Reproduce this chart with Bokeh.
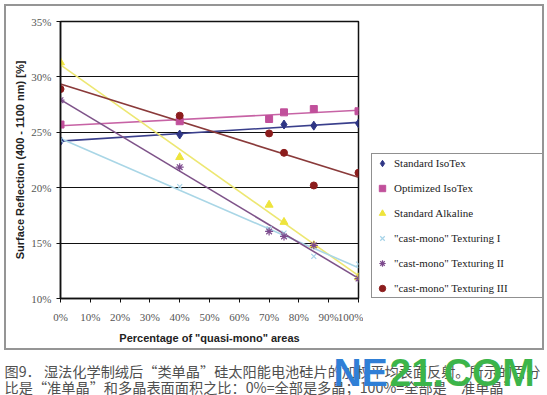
import numpy as np
from bokeh.plotting import figure
from bokeh.layouts import column, row
from bokeh.models import Range1d, Legend, LegendItem, FixedTicker, Spacer
from bokeh.core.properties import value
from bokeh.embed import file_html
from bokeh.resources import INLINE

# ---- data ----
x_ticks = [0, 10, 20, 30, 40, 50, 60, 70, 80, 90, 100]
x_tick_labels = ["0%", "10%", "20%", "30%", "40%", "50%", "60%", "70%", "80%", "90%", "100%"]
y_ticks = [10, 15, 20, 25, 30, 35]
y_tick_labels = ["10%", "15%", "20%", "25%", "30%", "35%"]

names = ["Standard IsoTex", "Optimized IsoTex", "Standard Alkaline",
         "\"cast-mono\" Texturing I", "\"cast-mono\" Texturing II", "\"cast-mono\" Texturing III"]

iso_x = [0, 40, 75, 85, 100]
iso_y = [24.2, 24.8, 25.7, 25.6, 25.8]
opt_x = [0, 40, 70, 75, 85, 100]
opt_y = [25.7, 26.0, 26.2, 26.8, 27.1, 26.9]
alk_x = [0, 40, 70, 75, 85, 100]
alk_y = [31.3, 22.75, 18.45, 16.9, 14.8, 11.9]
t1_x = [0, 40, 70, 75, 85, 100]
t1_y = [24.3, 20.1, 16.3, 15.9, 13.8, 13.1]
t2_x = [0, 40, 70, 75, 85, 100]
t2_y = [27.9, 21.85, 16.05, 15.6, 14.8, 11.8]
t3_x = [0, 40, 70, 75, 85, 100]
t3_y = [28.9, 26.5, 24.9, 23.15, 20.2, 21.35]

caption1 = "图9． 湿法化学制绒后“类单晶”硅太阳能电池硅片的加权平均表面反射。所示的百分"
caption2 = "比是“准单晶”和多晶表面面积之比：0%=全部是多晶；100%=全部是“准单晶”"
watermark_a = "NE"
watermark_b = "21.COM"

series = [
    (iso_x, iso_y, "diamond", "#2E3585", "#3A3F8C", 9),
    (opt_x, opt_y, "square", "#C1509B", "#C763A5", 7),
    (alk_x, alk_y, "triangle", "#EEE43C", "#EDE772", 8),
    (t1_x, t1_y, "x", "#A6D3E8", "#A9D6E6", 7),
    (t2_x, t2_y, "asterisk", "#7D4B8E", "#7E5389", 8),
    (t3_x, t3_y, "circle", "#8C1D1D", "#8A3A3A", 7),
]

BORDER = "#959595"


def blank(width, height, color):
    # a thin grey strip used as one side of the frame around chart + legend
    f = figure(width=width, height=height, x_range=Range1d(0, 1), y_range=Range1d(0, 1),
               output_backend="svg", toolbar_location=None,
               min_border_left=0, min_border_right=0, min_border_top=0, min_border_bottom=0,
               styles={"background-color": color})
    f.axis.visible = False
    f.grid.visible = False
    f.outline_line_color = None
    f.background_fill_color = color
    f.border_fill_color = color
    f.quad(left=[0], right=[1], bottom=[0], top=[1], fill_color=color, line_color=color)
    return column(f, spacing=0)


def mk_lw(marker):
    return 1.2 if marker in ("x", "asterisk") else 1


# ---- main chart ----
p = figure(width=357, height=342, x_range=Range1d(0, 100), y_range=Range1d(10, 35),
           output_backend="svg", toolbar_location=None,
           min_border_left=54, min_border_right=5, min_border_top=15, min_border_bottom=50)
p.background_fill_color = "white"
p.border_fill_color = "white"
p.outline_line_color = "#111111"
p.outline_line_width = 1.5

p.xgrid.grid_line_color = None
p.ygrid.grid_line_color = "#111111"
p.ygrid.grid_line_width = 1.2

for ax in (p.xaxis[0], p.yaxis[0]):
    ax.axis_line_color = "#111111"
    ax.axis_line_width = 1.5
    ax.major_tick_line_color = "#111111"
    ax.major_tick_out = 4
    ax.major_tick_in = 0
    ax.minor_tick_line_color = None
    ax.major_label_text_font = "Liberation Serif"
    ax.major_label_text_font_size = "11px"
    ax.major_label_text_color = "#555555"
    ax.axis_label_text_font = "Liberation Sans"
    ax.axis_label_text_font_style = "bold"
    ax.axis_label_text_font_size = "11px"
    ax.axis_label_text_color = "#222222"

p.xaxis.ticker = FixedTicker(ticks=x_ticks)
p.xaxis.major_label_overrides = {t: l for t, l in zip(x_ticks, x_tick_labels)}
p.xaxis.major_label_standoff = 8
p.xaxis.axis_label = 'Percentage of "quasi-mono" areas'
p.xaxis.axis_label_standoff = 6

p.yaxis.ticker = FixedTicker(ticks=y_ticks)
p.yaxis.major_label_overrides = {t: l for t, l in zip(y_ticks, y_tick_labels)}
p.yaxis.major_label_standoff = 5
p.yaxis.axis_label = "Surface Reflection (400 - 1100 nm) [%]"
p.yaxis.axis_label_standoff = 2

for (xs, ys, marker, mcol, lcol, size) in series:
    k, b = np.polyfit(xs, ys, 1)
    lx = [0, 100]
    p.line(lx, [b + k * v for v in lx], line_color=lcol, line_width=1.6)
for (xs, ys, marker, mcol, lcol, size) in series:
    p.scatter(xs, ys, marker=marker, size=size, fill_color=mcol, line_color=mcol,
              line_width=mk_lw(marker))

# ---- legend panel (its own figure so the legend is not clipped) ----
lg = figure(width=179, height=342, x_range=Range1d(0, 179), y_range=Range1d(0, 342),
            output_backend="svg", toolbar_location=None,
            min_border_left=0, min_border_right=0, min_border_top=0, min_border_bottom=0)
lg.axis.visible = False
lg.grid.visible = False
lg.outline_line_color = None
lg.background_fill_color = "white"
lg.border_fill_color = "white"
items = []
for (xs, ys, marker, mcol, lcol, size), name in zip(series, names):
    r = lg.scatter(xs, ys, marker=marker, size=size, fill_color=mcol, line_color=mcol,
                   line_width=mk_lw(marker), visible=False)
    items.append(LegendItem(label=name, renderers=[r]))
legend = Legend(items=items, location=(8, 0), margin=0, padding=1,
                glyph_width=18, glyph_height=16, label_height=16, label_width=150,
                spacing=9, label_standoff=3, label_text_font="Liberation Serif",
                label_text_font_size="11px", label_text_color="#222222",
                border_line_color="#222222", border_line_width=1,
                background_fill_color="white", background_fill_alpha=1)
lg.add_layout(legend, "center")

# ---- grey frame around chart + legend ----
boxed = column(blank(540, 2, BORDER),
               row(blank(2, 342, BORDER), p, lg, blank(2, 342, BORDER), spacing=0),
               blank(540, 2, BORDER), spacing=0)

# ---- caption strip below the bordered chart ----
c = figure(width=547, height=45, x_range=Range1d(0, 547), y_range=Range1d(45, 0),
           output_backend="svg", toolbar_location=None,
           min_border_left=0, min_border_right=0, min_border_top=0, min_border_bottom=0)
c.axis.visible = False
c.grid.visible = False
c.outline_line_color = None
c.background_fill_color = "white"
c.border_fill_color = "white"

c.text(x=[4, 4], y=[20, 36], text=[caption1, caption2],
       text_font=value("Noto Sans CJK SC"), text_font_size="14.2px",
       text_color="#505050", text_baseline="middle", text_align="left")
c.text(x=[333], y=[22], text=[watermark_a], text_font=value("Liberation Sans"),
       text_font_style="bold", text_font_size="39px", text_color="#2F7FD6",
       text_baseline="middle")
c.text(x=[389], y=[22], text=[watermark_b], text_font=value("Liberation Sans"),
       text_font_style="bold", text_font_size="39px", text_color="#3CB54A",
       text_baseline="middle")

layout = column(Spacer(height=4),
                row(Spacer(width=4), boxed, spacing=0),
                c, spacing=0)
open("out.html", "w").write(file_html(layout, INLINE))
